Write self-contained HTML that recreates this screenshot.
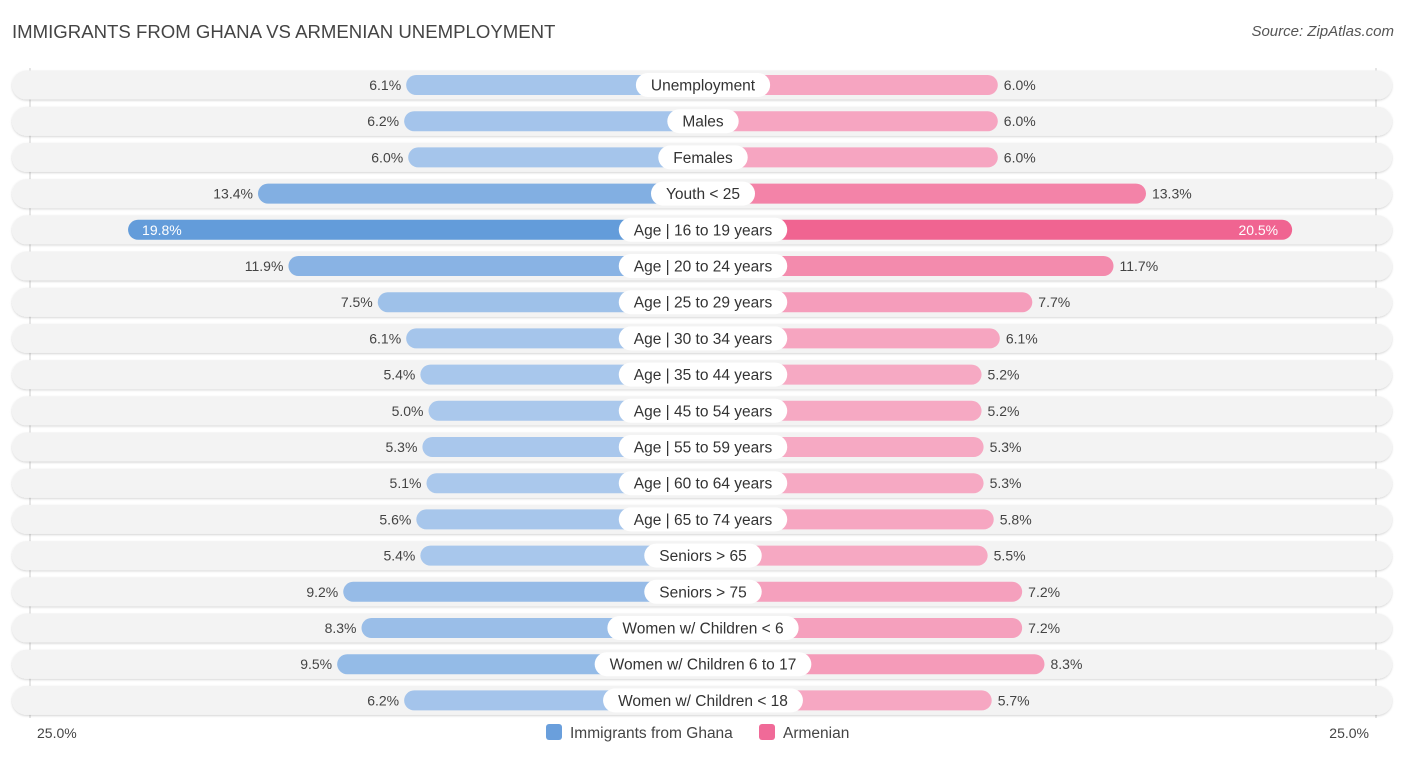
<!DOCTYPE html>
<html><head><meta charset="utf-8"><style>
body{margin:0;background:#fff;font-family:"Liberation Sans",Roboto,sans-serif;}
#wrap{position:relative;width:1406px;height:757px;overflow:hidden;}
.title{position:absolute;left:12px;top:21px;font-size:18.6px;color:#444;letter-spacing:0}
.source{position:absolute;right:12px;top:23px;font-size:15px;color:#555;font-style:italic}
</style></head><body>
<div id="wrap">
<div class="title">IMMIGRANTS FROM GHANA VS ARMENIAN UNEMPLOYMENT</div>
<div class="source">Source: ZipAtlas.com</div>
<svg id="svg" width="1406" height="757" style="position:absolute;left:0;top:0"></svg>
</div>
<script>
const categories=["Unemployment","Males","Females","Youth < 25","Age | 16 to 19 years","Age | 20 to 24 years","Age | 25 to 29 years","Age | 30 to 34 years","Age | 35 to 44 years","Age | 45 to 54 years","Age | 55 to 59 years","Age | 60 to 64 years","Age | 65 to 74 years","Seniors > 65","Seniors > 75","Women w/ Children < 6","Women w/ Children 6 to 17","Women w/ Children < 18"];
const ghana=[6.1,6.2,6.0,13.4,19.8,11.9,7.5,6.1,5.4,5.0,5.3,5.1,5.6,5.4,9.2,8.3,9.5,6.2];
const armenian=[6.0,6.0,6.0,13.3,20.5,11.7,7.7,6.1,5.2,5.2,5.3,5.3,5.8,5.5,7.2,7.2,8.3,5.7];
const axisLabels=["25.0%","25.0%"];
const NS="http://www.w3.org/2000/svg";
const svg=document.getElementById('svg');
const cx=703, off=173, scale=20.3, y0=85, dy=36.2;
function xL(v){return cx-off-v*scale;}
function xR(v){return cx+off+v*scale;}
function yR(i){return y0+i*dy;}
function mk(t,a){const e=document.createElementNS(NS,t);for(const k in a)e.setAttribute(k,a[k]);svg.appendChild(e);return e;}
function mix(c1,c2,t){return 'rgb('+c1.map((c,i)=>Math.round(c+(c2[i]-c)*t)).join(',')+')';}
const defs=mk('defs',{});
defs.innerHTML='<filter id="sh" x="-5%" y="-30%" width="110%" height="160%"><feDropShadow dx="0" dy="1" stdDeviation="1" flood-color="#000" flood-opacity="0.18"/></filter>';
let g;
g=mk('line',{x1:30,x2:30,y1:68,y2:718,stroke:'#ccc','stroke-width':1});

g=mk('line',{x1:1376,x2:1376,y1:68,y2:718,stroke:'#ccc','stroke-width':1});

categories.forEach((c,i)=>{
  const y=yR(i);
  const bg=mk('rect',{x:12,y:y-14.5,width:1380,height:29,rx:14.5,fill:'#f3f3f3',filter:'url(#sh)'});
  
  
  const tg=Math.min(1,Math.max(0,(ghana[i]-5)/15));
  const ta=Math.min(1,Math.max(0,(armenian[i]-5)/15));
  const lb=mk('rect',{x:xL(ghana[i]),y:y-10,width:cx-xL(ghana[i]),height:20,rx:10,fill:mix([170,200,236],[98,155,218],tg)});
  
  
  const rb=mk('rect',{x:cx,y:y-10,width:xR(armenian[i])-cx,height:20,rx:10,fill:mix([246,170,196],[240,100,145],ta)});
  
  
  const big=ghana[i]>=17, bigA=armenian[i]>=17;
  const lv=mk('text',{x:big?xL(ghana[i])+14:xL(ghana[i])-5,y:y+5,'font-size':14,fill:big?'#fff':'#444','text-anchor':big?'start':'end'});
  lv.textContent=ghana[i].toFixed(1)+'%';
  
  
  const rv=mk('text',{x:bigA?xR(armenian[i])-14:xR(armenian[i])+6,y:y+5,'font-size':14,fill:bigA?'#fff':'#444','text-anchor':bigA?'end':'start'});
  rv.textContent=armenian[i].toFixed(1)+'%';
  
  
  const lt=mk('text',{x:cx,y:y+5.5,'font-size':15.5,fill:'#333','text-anchor':'middle'});
  lt.textContent=c;
  const w=lt.getComputedTextLength()+30;
  const pill=mk('rect',{x:cx-w/2,y:y-12,width:w,height:24,rx:12,fill:'#fff'});
  
  
  svg.appendChild(lt);
  
  
});
let t=mk('text',{x:37,y:738,'font-size':14,fill:'#444'});t.textContent=axisLabels[0];

t=mk('text',{x:1369,y:738,'font-size':14,fill:'#444','text-anchor':'end'});t.textContent=axisLabels[1];

g=mk('rect',{x:546,y:724,width:16,height:16,rx:3,fill:'#6a9fdc'});

t=mk('text',{x:570,y:738,'font-size':15.5,fill:'#444'});t.textContent='Immigrants from Ghana';

g=mk('rect',{x:759,y:724,width:16,height:16,rx:3,fill:'#f06a98'});

t=mk('text',{x:783,y:738,'font-size':15.5,fill:'#444'});t.textContent='Armenian';

</script>
</body></html>
